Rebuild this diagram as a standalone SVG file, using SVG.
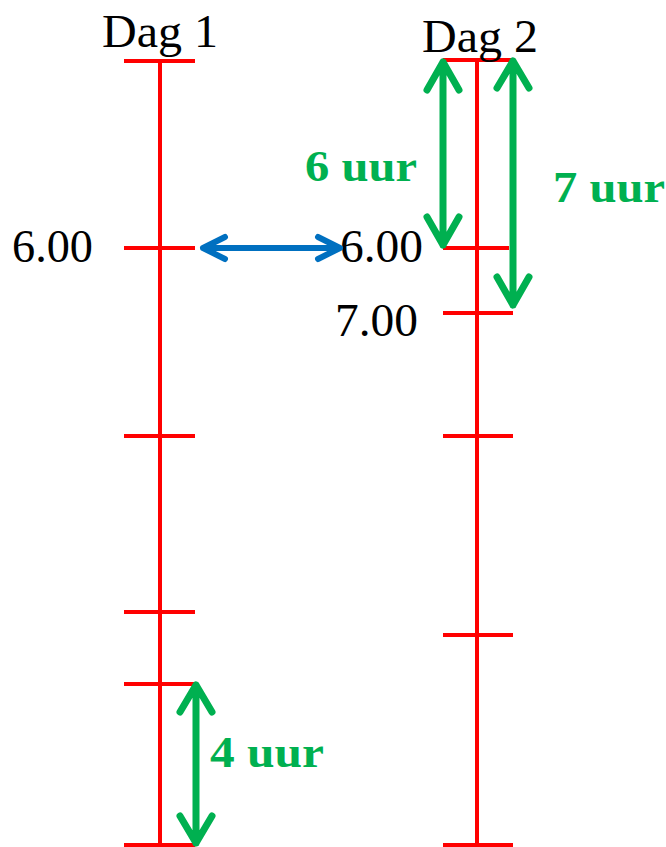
<svg xmlns="http://www.w3.org/2000/svg" width="666" height="847" viewBox="0 0 666 847">
<style>
.axis{stroke:#FF0000;stroke-width:4;fill:none}
.g{stroke:#00B050;stroke-width:7;fill:none;stroke-linecap:round;stroke-linejoin:round}
.b{stroke:#0070C0;stroke-width:6;fill:none;stroke-linecap:round;stroke-linejoin:round}
.t{font-family:"Liberation Serif","Times New Roman",serif;font-size:46px;fill:#000}
.gt{font-family:"Liberation Serif","Times New Roman",serif;font-size:44px;font-weight:bold;fill:#00B050}
</style>
<rect width="666" height="847" fill="#fff"/>
<g id="dag1-axis">
<path class="axis" d="M160 61V847M124 61H195M124 248H195M124 436H195M124 612H195M124 684H195M124 845H195"/>
</g>
<g id="dag2-axis">
<path class="axis" d="M477 60V847M443 60H513M443 248H509M443 313H513M443 436H513M443 635H513M443 845H513"/>
</g>
<g id="labels">
<text class="t" x="102" y="47" textLength="116" lengthAdjust="spacingAndGlyphs">Dag 1</text>
<text class="t" x="422" y="52" textLength="116" lengthAdjust="spacingAndGlyphs">Dag 2</text>
<text class="t" x="12" y="262" textLength="81" lengthAdjust="spacingAndGlyphs">6.00</text>
<text class="t" x="340" y="262" textLength="83" lengthAdjust="spacingAndGlyphs">6.00</text>
<text class="t" x="335" y="336" textLength="83" lengthAdjust="spacingAndGlyphs">7.00</text>
<text class="gt" x="305" y="181" textLength="112" lengthAdjust="spacingAndGlyphs">6 uur</text>
<text class="gt" x="553" y="202" textLength="112" lengthAdjust="spacingAndGlyphs">7 uur</text>
<text class="gt" x="210" y="767" textLength="114" lengthAdjust="spacingAndGlyphs">4 uur</text>
</g>
<g id="connectors">
<path class="b" d="M203 248H340M225 237L203 248L225 259M318 237L340 248L318 259"/>
<path class="g" d="M443 62V245M427 90L443 62L459 90M427 217L443 245L459 217"/>
<path class="g" d="M513 61V305M497 88L513 61L529 88M497 277L513 305L529 277"/>
<path class="g" d="M196 685V843M180 712L196 685L212 712M180 816L196 843L212 816"/>
</g>
</svg>
